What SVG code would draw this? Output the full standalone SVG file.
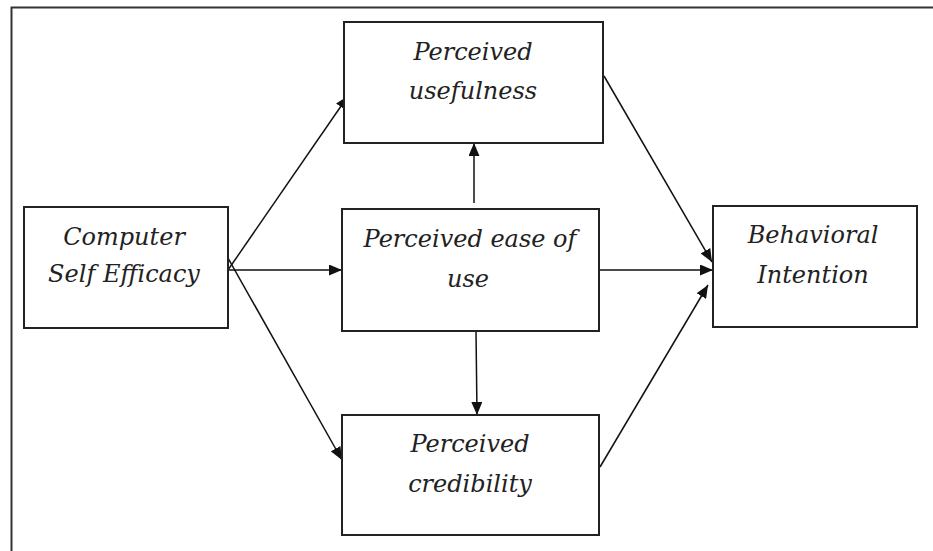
<svg xmlns="http://www.w3.org/2000/svg" width="933" height="551" viewBox="0 0 933 551">
<style>
.box{fill:#fff;stroke:#222;stroke-width:2}
.lbl{font-family:"DejaVu Serif","Liberation Serif",serif;font-style:italic;font-size:24px;fill:#222;text-anchor:middle}
.con{stroke:#111;stroke-width:1.5;fill:none;marker-end:url(#ah)}
</style>
<defs>
<marker id="ah" viewBox="0 0 13 11" refX="13" refY="5.5" markerWidth="13" markerHeight="11" markerUnits="userSpaceOnUse" orient="auto">
<path d="M0,0 L13,5.5 L0,11 Z" fill="#111"/>
</marker>
</defs>
<rect width="933" height="551" fill="#fff"/>
<path d="M11.5,551 V7.5 H933" fill="none" stroke="#333" stroke-width="2"/>
<g id="connectors">
<line class="con" x1="228" y1="270" x2="348" y2="96"/>
<line class="con" x1="228" y1="270" x2="342" y2="270"/>
<line class="con" x1="224" y1="251" x2="342" y2="460"/>
<line class="con" x1="474" y1="203" x2="474" y2="143"/>
<line class="con" x1="476" y1="331" x2="477" y2="415"/>
<line class="con" x1="604" y1="76" x2="712" y2="262"/>
<line class="con" x1="599" y1="270" x2="713" y2="270"/>
<line class="con" x1="600" y1="467" x2="708" y2="285"/>
</g>
<g id="cse">
<rect class="box" x="24" y="207" width="204" height="121"/>
<text class="lbl" x="124" y="245">Computer</text>
<text class="lbl" x="124" y="282">Self Efficacy</text>
</g>
<g id="pu">
<rect class="box" x="344" y="22" width="259" height="121"/>
<text class="lbl" x="473" y="60">Perceived</text>
<text class="lbl" x="473" y="99">usefulness</text>
</g>
<g id="peu">
<rect class="box" x="342" y="209" width="257" height="122"/>
<text class="lbl" x="470" y="247">Perceived ease of</text>
<text class="lbl" x="468" y="287">use</text>
</g>
<g id="pc">
<rect class="box" x="342" y="415" width="257" height="120"/>
<text class="lbl" x="470" y="452">Perceived</text>
<text class="lbl" x="470" y="492">credibility</text>
</g>
<g id="bi">
<rect class="box" x="713" y="206" width="204" height="121"/>
<text class="lbl" x="813" y="243">Behavioral</text>
<text class="lbl" x="813" y="283">Intention</text>
</g>
</svg>
